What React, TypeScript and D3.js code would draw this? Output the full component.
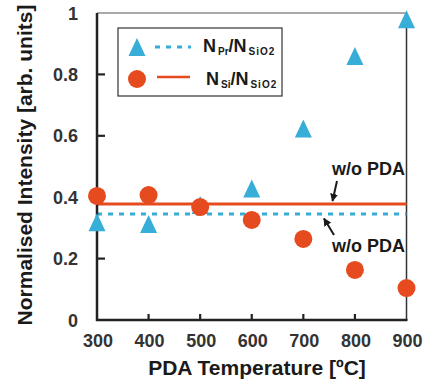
import React from "react";
import * as d3 from "d3";

const temps = [300, 400, 500, 600, 700, 800, 900];
const prRatio = [0.318, 0.313, 0.375, 0.428, 0.624, 0.86, 0.98];
const siRatio = [0.404, 0.407, 0.368, 0.326, 0.264, 0.163, 0.104];
const prNoPda = 0.345;
const siNoPda = 0.378;
const yTicks = [0, 0.2, 0.4, 0.6, 0.8, 1];
const yTickLabels = ["0", "0.2", "0.4", "0.6", "0.8", "1"];
const xTicks = [300, 400, 500, 600, 700, 800, 900];

const BLUE = "#36aed8";
const RED = "#e64a1f";
const FONT = "'Liberation Sans', Arial, sans-serif";

export default function App() {
  const W = 437, H = 385;
  const left = 97, right = 406.5, top = 13, bottom = 320;
  const x = d3.scaleLinear().domain([300, 900]).range([left, right]);
  const y = d3.scaleLinear().domain([0, 1]).range([bottom, top]);
  const tri = (cx: number, cy: number, w = 17, h = 18) =>
    `M${cx},${cy - h / 2}L${cx + w / 2},${cy + h / 2}L${cx - w / 2},${cy + h / 2}Z`;
  const line = d3.line<number>().x((d) => d).y(0);

  return (
    <svg width={W} height={H} style={{ position: "absolute", left: 0, top: 0, background: "#fff" }}>
      <defs>
        <marker id="ah" viewBox="0 0 10 10" refX="9" refY="5" markerWidth="4" markerHeight="4" orient="auto">
          <path d="M0,0L10,5L0,10Z" fill="#1a1a1a" />
        </marker>
      </defs>
      {/* frame */}
      <line x1={left} x2={right} y1={top} y2={top} stroke="#555" strokeWidth={1.2} />
      <line x1={right} x2={right} y1={top} y2={bottom} stroke="#333" strokeWidth={1.5} />
      {/* y ticks */}
      {yTicks.map((t, i) => (
        <g key={"y" + i}>
          {t > 0 && t < 1 && (
            <line x1={left} x2={left + 8} y1={y(t)} y2={y(t)} stroke="#222" strokeWidth={2.2} />
          )}
          <text x={78} y={y(t) + 6.5} textAnchor="end" fontFamily={FONT} fontWeight="bold" fontSize={18} fill="#333">
            {yTickLabels[i]}
          </text>
        </g>
      ))}
      {/* x ticks */}
      {xTicks.map((t, i) => (
        <g key={"x" + i}>
          {t > 300 && t < 900 && (
            <line x1={x(t)} x2={x(t)} y1={bottom} y2={bottom - 6} stroke="#222" strokeWidth={2.2} />
          )}
          <text x={x(t) + 1} y={347} textAnchor="middle" fontFamily={FONT} fontWeight="bold" fontSize={18} fill="#333">
            {t}
          </text>
        </g>
      ))}
      {/* reference lines */}
      <path
        d={line([left, right]) as string}
        transform={`translate(0,${y(siNoPda)})`}
        stroke={RED}
        strokeWidth={3}
        fill="none"
      />
      <path
        d={line([left, right]) as string}
        transform={`translate(0,${y(prNoPda)})`}
        stroke={BLUE}
        strokeWidth={3}
        strokeDasharray="5 6"
        fill="none"
      />
      {/* axes */}
      <line x1={left} x2={left} y1={top} y2={bottom + 1} stroke="#222" strokeWidth={2.5} />
      <line x1={left - 1} x2={right + 1} y1={bottom} y2={bottom} stroke="#222" strokeWidth={2.5} />
      {/* data */}
      {temps.map((t, i) => (
        <path key={"p" + i} d={tri(x(t), y(prRatio[i]))} fill={BLUE} />
      ))}
      {temps.map((t, i) => (
        <circle key={"s" + i} cx={x(t)} cy={y(siRatio[i])} r={9} fill={RED} />
      ))}
      {/* annotations */}
      <text x={332} y={175} fontFamily={FONT} fontWeight="bold" fontSize={18} fill="#1a1a1a">w/o PDA</text>
      <line x1={337} y1={181} x2={332.5} y2={201} stroke="#1a1a1a" strokeWidth={2} markerEnd="url(#ah)" />
      <text x={332} y={252} fontFamily={FONT} fontWeight="bold" fontSize={18} fill="#1a1a1a">w/o PDA</text>
      <line x1={334} y1={235} x2={324} y2={218.5} stroke="#1a1a1a" strokeWidth={2} markerEnd="url(#ah)" />
      {/* legend */}
      <rect x={118} y={28} width={164} height={68} fill="#fff" stroke="#333" strokeWidth={1.2} />
      <path d={tri(137, 47)} fill={BLUE} />
      <line x1={155} x2={191} y1={47} y2={47} stroke={BLUE} strokeWidth={3} strokeDasharray="5 6" />
      <circle cx={137} cy={79} r={9} fill={RED} />
      <line x1={157} x2={190} y1={77} y2={77} stroke={RED} strokeWidth={2.5} />
      <text x={203} y={52} fontFamily={FONT} fontWeight="bold" fontSize={18} fill="#1a1a1a">
        N<tspan fontSize={10} dy={3} dx={2}>Pr</tspan>
        <tspan dy={-3}>/N</tspan>
        <tspan fontSize={10} dy={3} dx={2} letterSpacing={1}>SiO2</tspan>
      </text>
      <text x={206} y={85} fontFamily={FONT} fontWeight="bold" fontSize={18} fill="#1a1a1a">
        N<tspan fontSize={10} dy={3} dx={2}>Si</tspan>
        <tspan dy={-3}>/N</tspan>
        <tspan fontSize={10} dy={3} dx={2} letterSpacing={1}>SiO2</tspan>
      </text>
      {/* axis titles */}
      <text x={257} y={375} textAnchor="middle" fontFamily={FONT} fontWeight="bold" fontSize={21} fill="#1a1a1a">
        PDA Temperature [ºC]
      </text>
      <text
        transform="translate(32,165) rotate(-90)"
        textAnchor="middle"
        fontFamily={FONT}
        fontWeight="bold"
        fontSize={21}
        fill="#1a1a1a"
      >
        Normalised Intensity [arb. units]
      </text>
    </svg>
  );
}
